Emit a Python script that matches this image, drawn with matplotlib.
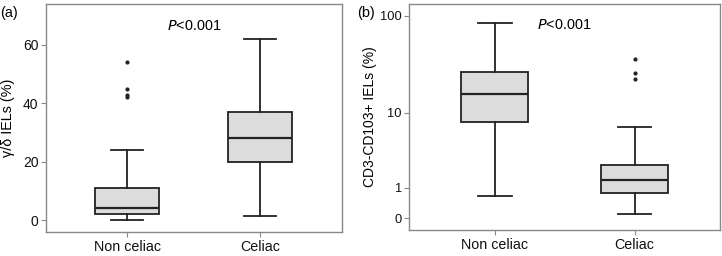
import matplotlib
matplotlib.use("Agg")
import matplotlib.pyplot as plt
import numpy as np

plt.rcParams['font.family'] = ['Liberation Sans', 'DejaVu Sans']

categories = ["Non celiac", "Celiac"]

# panel (a): gamma/delta IELs (%)
a_low = [0.0, 1.3]
a_q1 = [1.9, 20.0]
a_med = [4.0, 28.1]
a_q3 = [10.9, 36.9]
a_high = [24.0, 62.1]
a_fliers = [[54.1, 45.0, 42.9, 42.1], []]

# panel (b): CD3-CD103+ IELs (%)
b_low = [0.66, 0.095]
b_q1 = [8.0, 0.79]
b_med = [16.0, 1.38]
b_q3 = [27.2, 2.39]
b_high = [85.0, 7.0]
b_fliers = [[], [36.9, 26.1, 22.9]]

b_ticks = [0, 1, 10, 100]

fig = plt.figure(figsize=(7.22, 2.56), dpi=100)
ax1 = fig.add_axes([0.0633, 0.0949, 0.4108, 0.889])
ax2 = fig.add_axes([0.5665, 0.1016, 0.4312, 0.883])

edge = "#222222"
fill = "#dcdcdc"

def stats(low, q1, med, q3, high, fliers):
    return [dict(whislo=low[i], q1=q1[i], med=med[i], q3=q3[i], whishi=high[i],
                 fliers=fliers[i], label=categories[i]) for i in range(len(categories))]

def draw(ax, st, yfs):
    ax.bxp(st, positions=[1, 2], widths=0.48, patch_artist=True, showfliers=True,
           boxprops=dict(facecolor=fill, edgecolor=edge, linewidth=1.3),
           medianprops=dict(color=edge, linewidth=1.6),
           whiskerprops=dict(color=edge, linewidth=1.3),
           capprops=dict(color=edge, linewidth=1.3),
           capwidths=0.24,
           flierprops=dict(marker='o', markersize=2.0, markerfacecolor=edge,
                           markeredgecolor=edge, linestyle='none'))
    for s in ax.spines.values():
        s.set_color("#888888")
        s.set_linewidth(1.0)
    ax.tick_params(axis='both', colors="#888888", labelcolor="#111111",
                   length=3.6, width=0.8, pad=1.5)
    ax.tick_params(axis='x', labelsize=10.3, pad=2.5)
    ax.tick_params(axis='y', labelsize=yfs)

draw(ax1, stats(a_low, a_q1, a_med, a_q3, a_high, a_fliers), 10.0)
ax1.set_xlim(0.385, 2.62)
ax1.set_ylim(-4, 74)
ax1.set_yticks([0, 20, 40, 60])
ax1.set_xticks([1, 2], categories)
ax1.set_ylabel("γ/δ IELs (%)", fontsize=10.4)
ax1.yaxis.set_label_coords(-0.103, 0.5)
ax1.text(0.5, 0.905, "$\\mathit{P}$<0.001", transform=ax1.transAxes, ha='center',
         va='center', fontsize=10.4)
fig.text(0.0, 0.95, "(a)", fontsize=10.4, ha='left', va='center')

ax2.set_yscale('function', functions=(lambda v: np.log10(np.clip(v, -0.99, None) + 1),
                                      lambda v: 10 ** v - 1))
draw(ax2, stats(b_low, b_q1, b_med, b_q3, b_high, b_fliers), 9.3)
ax2.set_xlim(0.387, 2.613)
ax2.set_ylim(10 ** -0.1154 - 1, 10 ** 2.119 - 1)
ax2.set_yticks(b_ticks, [str(t) for t in b_ticks])
ax2.yaxis.set_minor_locator(matplotlib.ticker.NullLocator())
ax2.set_xticks([1, 2], categories)
ax2.set_ylabel("CD3-CD103+ IELs (%)", fontsize=10.0)
ax2.yaxis.set_label_coords(-0.103, 0.5)
ax2.text(0.5, 0.905, "$\\mathit{P}$<0.001", transform=ax2.transAxes, ha='center',
         va='center', fontsize=10.4)
fig.text(0.494, 0.95, "(b)", fontsize=10.4, ha='left', va='center')

fig.savefig("out.png", dpi=100)
